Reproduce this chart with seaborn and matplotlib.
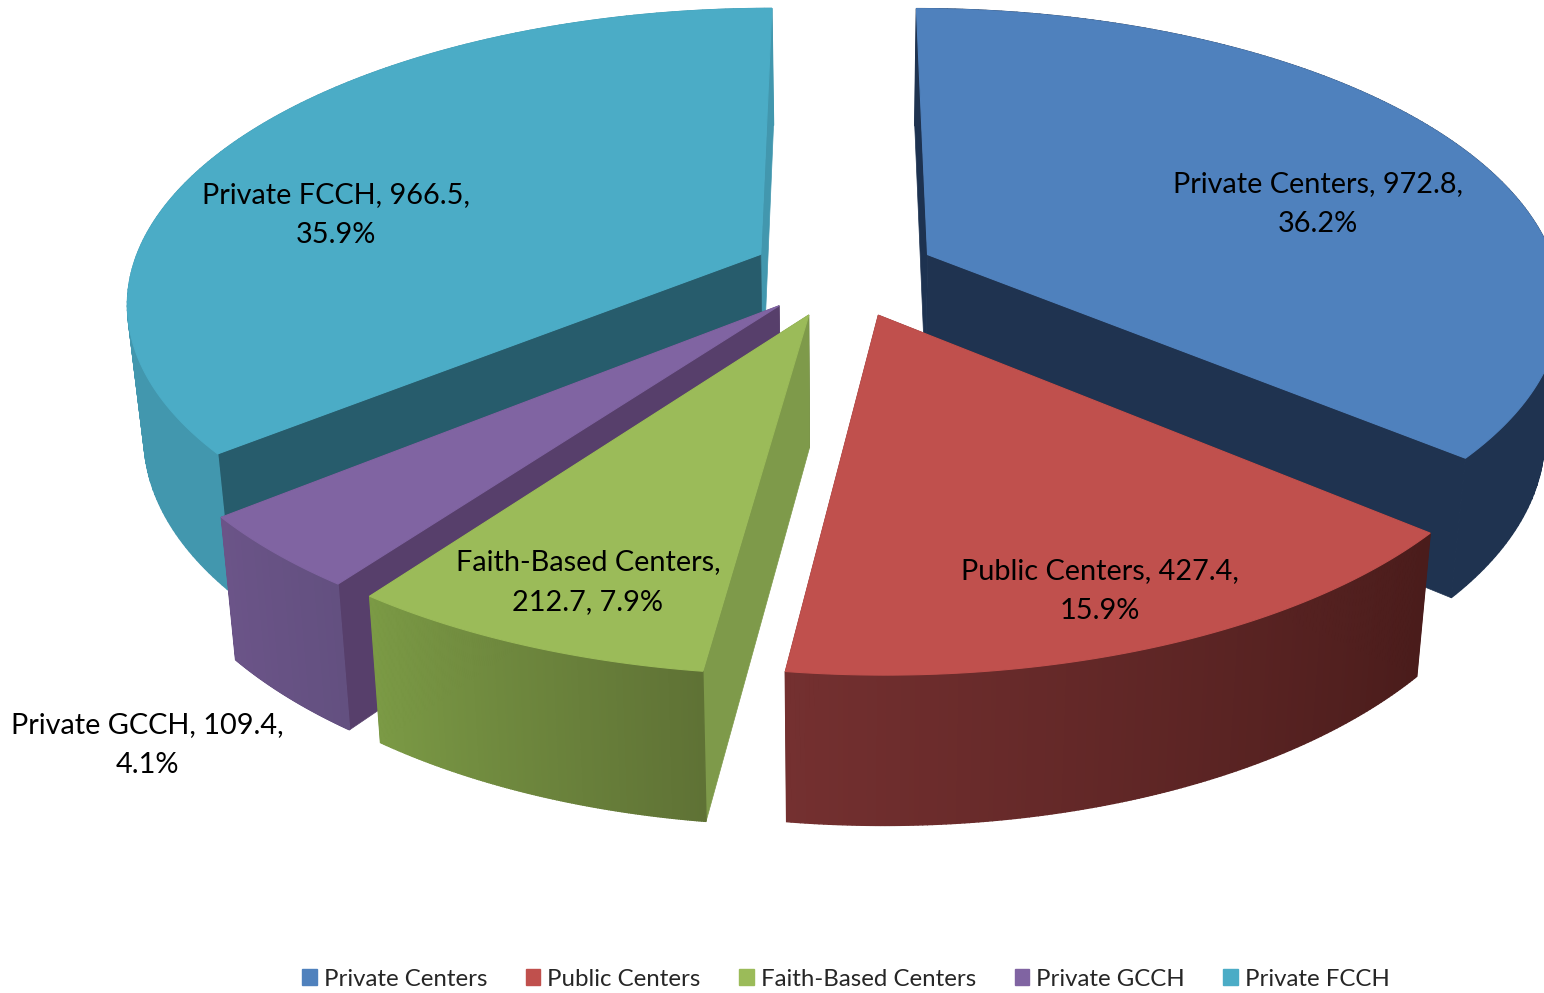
import numpy as np
import matplotlib
matplotlib.use("Agg")
import matplotlib.pyplot as plt
from matplotlib.patches import Patch
import seaborn as sns

# === Data ===
sectors = ["Private Centers", "Public Centers", "Faith-Based Centers", "Private GCCH", "Private FCCH"]
values = [972.8, 427.4, 212.7, 109.4, 966.5]

# === Colours (top, flat walls, outer wall left -> right) ===
top_colors = ["#4f81bd", "#c0504d", "#9bbb59", "#8064a2", "#4bacc6"]
start_wall = ["#1d3250", "#4a1c1b", "#7e9a4a", "#573f6b", "#275c6c"]
end_wall = ["#1f3350", "#4a1c1b", "#5f7235", "#573f6b", "#4297ae"]
rim_left = ["#1f3350", "#743030", "#7b9a45", "#6b5488", "#4297ae"]
rim_right = ["#1f3350", "#4a1c1b", "#5f7235", "#635080", "#4297ae"]

# === Pie geometry, in pixels ===
CX, CY = 844, 273
RX, RY = 630, 609.5
K = 0.475          # tilt
P = 0.000255       # perspective
EXPLODE = 93

sns.set_theme(style="white")
plt.rcParams["font.family"] = ["Lato", "DejaVu Sans"]


def project(x, y):
    s = 1 / (1 + P * y)
    return CX + x * s, CY - K * y * s


def drop(px, py):
    # same point on the lower face of the pie
    return CX + 0.977 * (np.asarray(px) - CX), 125 + 1.05 * (np.asarray(py) - 8)


fig = plt.figure(figsize=(15.44, 9.93), dpi=100)
ax = fig.add_axes([0, 0, 1, 1])
ax.set_xlim(0, 1544)
ax.set_ylim(993, 0)
ax.axis("off")

fracs = np.array(values) / sum(values)
edges = np.concatenate([[0], np.cumsum(fracs)]) * 2 * np.pi

# back slices first, so the front ones cover them
for i in [0, 4, 3, 2, 1]:
    a0, a1 = edges[i], edges[i + 1]
    mid = (a0 + a1) / 2
    ex, ey = EXPLODE * np.sin(mid), EXPLODE * np.cos(mid)
    th = np.linspace(a0, a1, 160)
    rx, ry = project(ex + RX * np.sin(th), ey + RY * np.cos(th))
    ax_, ay_ = project(ex, ey)
    rxb, ryb = drop(rx, ry)
    axb, ayb = drop(ax_, ay_)

    # flat cut walls
    ax.fill([ax_, rx[-1], rxb[-1], axb], [ay_, ry[-1], ryb[-1], ayb], color=end_wall[i], lw=0.5)
    ax.fill([ax_, rx[0], rxb[0], axb], [ay_, ry[0], ryb[0], ayb], color=start_wall[i], lw=0.5)

    # outer wall, shaded from left to right
    shades = sns.blend_palette([rim_left[i], rim_right[i]], n_colors=len(th))
    order = np.argsort(np.argsort(rx))
    for j in range(len(th) - 1):
        ax.fill([rx[j], rx[j + 1], rxb[j + 1], rxb[j]], [ry[j], ry[j + 1], ryb[j + 1], ryb[j]],
                color=shades[order[j]], lw=1)

    # top face
    ax.fill(np.r_[ax_, rx], np.r_[ay_, ry], color=top_colors[i], lw=0.8)

# === Data labels ===
label_xy = [(1318, 204), (1100, 591), (588, 582), (147, 745), (336, 215)]
for i, name in enumerate(sectors):
    pct = f"{100 * fracs[i]:.1f}%"
    if i == 2:
        txt = f"{name},\n{values[i]}, {pct}"
    else:
        txt = f"{name}, {values[i]},\n{pct}"
    ax.text(label_xy[i][0], label_xy[i][1], txt, ha="center", va="center",
            fontsize=20.8, color="black", linespacing=1.65)

# === Legend ===
handles = [Patch(color=c, label=s) for c, s in zip(top_colors, sectors)]
ax.legend(handles=handles, ncol=5, frameon=False, loc="center", bbox_to_anchor=(846, 979),
          bbox_transform=ax.transData, fontsize=17.3, handlelength=0.6, handleheight=0.6,
          handletextpad=0.3, columnspacing=1.6, borderpad=0, borderaxespad=0)

fig.savefig("out.png", dpi=100)
